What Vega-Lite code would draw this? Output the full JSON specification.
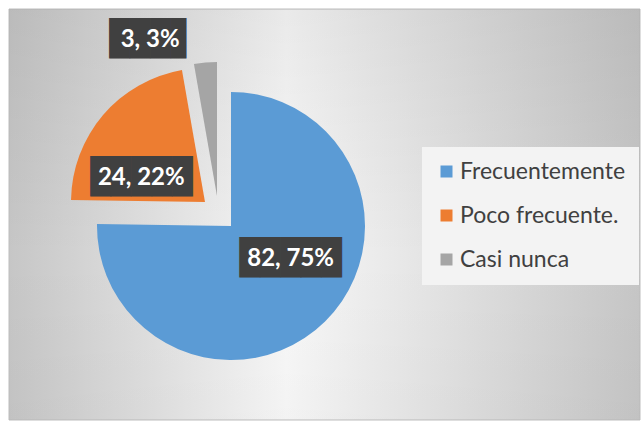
{
  "$schema": "https://vega.github.io/schema/vega-lite/v6.json",
  "autosize": {"type": "fit", "contains": "padding"},
  "width": 641,
  "height": 421,
  "padding": {"left": 8, "top": 8, "right": 0, "bottom": 0},
  "background": "white",
  "config": {"view": {"stroke": null}},
  "data": {
    "values": [
      {"category": "Frecuentemente", "value": 82, "label": "82, 75%", "order": 1},
      {"category": "\u00a0Poco frecuente.", "value": 24, "label": "24, 22%", "order": 2},
      {"category": "\u00a0Casi nunca", "value": 3, "label": "3, 3%", "order": 3}
    ]
  },
  "layer": [
    {
      "data": {"values": [{}]},
      "mark": {
        "type": "rect",
        "stroke": "#bdbdbd",
        "strokeWidth": 1,
        "color": {
          "gradient": "linear", "x1": 0, "y1": 0, "x2": 1, "y2": 0,
          "stops": [
            {"offset": 0, "color": "#c6c6c6"},
            {"offset": 0.44, "color": "#f8f8f8"},
            {"offset": 1, "color": "#c6c6c6"}
          ]
        }
      },
      "encoding": {}
    },
    {
      "data": {"values": [{}]},
      "mark": {
        "type": "rect",
        "color": {
          "gradient": "linear", "x1": 0, "y1": 0, "x2": 0, "y2": 1,
          "stops": [
            {"offset": 0, "color": "rgba(0,0,0,0.06)"},
            {"offset": 0.6, "color": "rgba(0,0,0,0)"},
            {"offset": 1, "color": "rgba(0,0,0,0.02)"}
          ]
        }
      },
      "encoding": {}
    },
    {
      "transform": [
        {"stack": "value", "groupby": [], "sort": [{"field": "order", "order": "ascending"}], "as": ["v0", "v1"]},
        {"filter": "datum.order === 1"}
      ],
      "mark": {"type": "arc", "radius": 134, "x": 222, "y": 217},
      "encoding": {
        "theta": {"field": "v0", "type": "quantitative", "scale": {"nice": false, "zero": true}},
        "theta2": {"field": "v1"},
        "color": {
          "field": "category", "type": "nominal",
          "scale": {"domain": ["Frecuentemente", "\u00a0Poco frecuente.", "\u00a0Casi nunca"], "range": ["#5b9bd5", "#ed7d31", "#a5a5a5"]},
          "legend": {"title": null, "orient": "none", "legendX": 413, "legendY": 138, "symbolType": "square", "symbolSize": 144, "symbolStrokeWidth": 0, "labelFont": "Lato", "labelFontSize": 23, "labelColor": "#404040", "labelOffset": 2, "rowPadding": 20, "padding": 13, "fillColor": "#f3f3f3", "labelLimit": 300}
        }
      }
    },
    {
      "transform": [
        {"stack": "value", "groupby": [], "sort": [{"field": "order", "order": "ascending"}], "as": ["v0", "v1"]},
        {"filter": "datum.order === 2"}
      ],
      "mark": {"type": "arc", "radius": 134, "x": 222, "y": 217, "xOffset": -26, "yOffset": -24},
      "encoding": {
        "theta": {"field": "v0", "type": "quantitative", "scale": {"nice": false, "zero": true}},
        "theta2": {"field": "v1"},
        "color": {
          "field": "category", "type": "nominal",
          "scale": {"domain": ["Frecuentemente", "\u00a0Poco frecuente.", "\u00a0Casi nunca"], "range": ["#5b9bd5", "#ed7d31", "#a5a5a5"]},
          "legend": {"title": null, "orient": "none", "legendX": 413, "legendY": 138, "symbolType": "square", "symbolSize": 144, "symbolStrokeWidth": 0, "labelFont": "Lato", "labelFontSize": 23, "labelColor": "#404040", "labelOffset": 2, "rowPadding": 20, "padding": 13, "fillColor": "#f3f3f3", "labelLimit": 300}
        }
      }
    },
    {
      "transform": [
        {"stack": "value", "groupby": [], "sort": [{"field": "order", "order": "ascending"}], "as": ["v0", "v1"]},
        {"filter": "datum.order === 3"}
      ],
      "mark": {"type": "arc", "radius": 134, "x": 222, "y": 217, "xOffset": -14, "yOffset": -30},
      "encoding": {
        "theta": {"field": "v0", "type": "quantitative", "scale": {"nice": false, "zero": true}},
        "theta2": {"field": "v1"},
        "color": {
          "field": "category", "type": "nominal",
          "scale": {"domain": ["Frecuentemente", "\u00a0Poco frecuente.", "\u00a0Casi nunca"], "range": ["#5b9bd5", "#ed7d31", "#a5a5a5"]},
          "legend": {"title": null, "orient": "none", "legendX": 413, "legendY": 138, "symbolType": "square", "symbolSize": 144, "symbolStrokeWidth": 0, "labelFont": "Lato", "labelFontSize": 23, "labelColor": "#404040", "labelOffset": 2, "rowPadding": 20, "padding": 13, "fillColor": "#f3f3f3", "labelLimit": 300}
        }
      }
    },
    {
      "mark": {"type": "text", "radius": 65, "x": 222, "y": 217, "dx": 14, "dy": -13, "font": "DejaVu Sans Mono", "fontSize": 34, "color": "#404040", "baseline": "middle", "align": "center"},
      "encoding": {
        "theta": {"field": "value", "type": "quantitative", "stack": true},
        "order": {"field": "order"},
        "text": {"condition": {"test": "datum.order === 1", "value": "█████"}, "value": ""}
      }
    },
    {
      "mark": {"type": "text", "radius": 65, "x": 222, "y": 217, "dx": 14, "dy": -13, "font": "Lato", "fontWeight": "bold", "fontSize": 24, "color": "white", "baseline": "middle", "align": "center"},
      "encoding": {
        "theta": {"field": "value", "type": "quantitative", "stack": true},
        "order": {"field": "order"},
        "text": {"condition": {"test": "datum.order === 1", "field": "label"}, "value": ""}
      }
    },
    {
      "mark": {"type": "text", "radius": 64, "x": 222, "y": 217, "xOffset": -26, "yOffset": -24, "dx": -15, "dy": 18, "font": "DejaVu Sans Mono", "fontSize": 34, "color": "#404040", "baseline": "middle", "align": "center"},
      "encoding": {
        "theta": {"field": "value", "type": "quantitative", "stack": true},
        "order": {"field": "order"},
        "text": {"condition": {"test": "datum.order === 2", "value": "█████"}, "value": ""}
      }
    },
    {
      "mark": {"type": "text", "radius": 64, "x": 222, "y": 217, "xOffset": -26, "yOffset": -24, "dx": -15, "dy": 18, "font": "Lato", "fontWeight": "bold", "fontSize": 24, "color": "white", "baseline": "middle", "align": "center"},
      "encoding": {
        "theta": {"field": "value", "type": "quantitative", "stack": true},
        "order": {"field": "order"},
        "text": {"condition": {"test": "datum.order === 2", "field": "label"}, "value": ""}
      }
    },
    {
      "mark": {"type": "text", "radius": 160, "x": 222, "y": 217, "xOffset": -14, "yOffset": -30, "dx": -53, "dy": 3, "font": "DejaVu Sans Mono", "fontSize": 34, "color": "#404040", "baseline": "middle", "align": "center"},
      "encoding": {
        "theta": {"field": "value", "type": "quantitative", "stack": true},
        "order": {"field": "order"},
        "text": {"condition": {"test": "datum.order === 3", "value": "███▊"}, "value": ""}
      }
    },
    {
      "mark": {"type": "text", "radius": 160, "x": 222, "y": 217, "xOffset": -14, "yOffset": -30, "dx": -53, "dy": 3, "font": "Lato", "fontWeight": "bold", "fontSize": 24, "color": "white", "baseline": "middle", "align": "center"},
      "encoding": {
        "theta": {"field": "value", "type": "quantitative", "stack": true},
        "order": {"field": "order"},
        "text": {"condition": {"test": "datum.order === 3", "field": "label"}, "value": ""}
      }
    }
  ]
}
